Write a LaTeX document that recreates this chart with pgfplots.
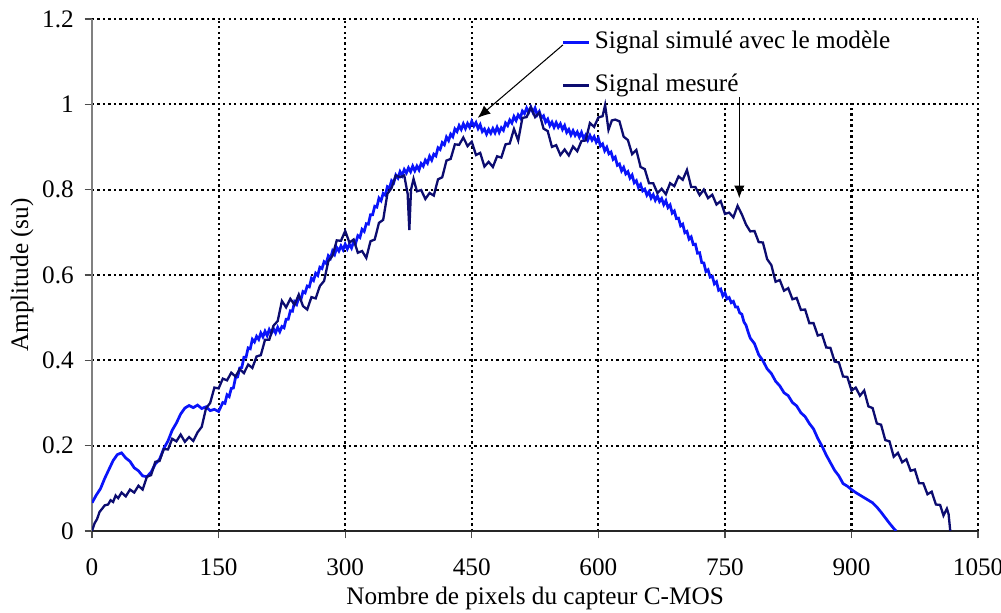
\documentclass[border=0pt]{standalone}
\usepackage{pgfplots}
\pgfplotsset{compat=1.18}
\usepackage{fontspec}
\setmainfont{Liberation Serif}
\usetikzlibrary{arrows.meta}
\definecolor{simblue}{RGB}{10,20,250}
\definecolor{mesnavy}{RGB}{12,12,112}
\begin{document}
\fontsize{12}{14.4}\selectfont
\begin{tikzpicture}
\begin{axis}[
  scale only axis, width=421.7pt, height=243.7pt,
  xmin=0, xmax=1050, ymin=0, ymax=1.2,
  xtick={0,150,300,450,600,750,900,1050},
  ytick={0,0.2,0.4,0.6,0.8,1,1.2},
  /pgf/number format/assume math mode=true,
  /pgf/number format/1000 sep={},
  yticklabel style={/pgf/number format/fixed,/pgf/number format/precision=1, xshift=-1pt},
  xticklabel style={yshift=-5.7pt},
  axis x line*=bottom, axis y line*=left,
  x axis line style={black!85, line width=0.6pt, -},
  y axis line style={black!50, line width=0.6pt, -},
  tick align=outside, major tick length=3.5pt,
  tick style={black!70, line width=0.6pt},
  grid=major,
  major grid style={black, line width=1pt, dash pattern=on 1.1pt off 1.5pt},
  xlabel={Nombre de pixels du capteur C-MOS},
  ylabel={Amplitude (su)},
  xlabel style={at={(axis description cs:0.5,-0.1445)}, anchor=base},
  ylabel style={at={(axis description cs:-0.079,0.5)}, anchor=center},
  clip mode=individual,
  legend cell align=left,
  legend style={draw=none, fill=none, at={(axis cs:556,1.183)}, anchor=north west,
    inner sep=0pt, row sep=5.4pt, nodes={inner sep=2pt, text height=8.5pt, text depth=2.6pt}},
  legend image code/.code={\draw[#1] (0cm,0cm) -- (0.44cm,0cm);},
]
\fill[white] (axis cs:540,1.006) rectangle (axis cs:1046,1.194);
\addplot[simblue, line width=1.3pt] coordinates {
(0,0.066)(5,0.084)(10,0.099)(15,0.123)(20,0.144)(25,0.165)(30,0.179)(35,0.183)(40,0.171)(45,0.163)
(50,0.148)(55,0.141)(60,0.129)(65,0.127)(70,0.138)(75,0.157)(80,0.168)(85,0.193)(90,0.211)(95,0.236)
(100,0.253)(105,0.274)(110,0.288)(115,0.294)(120,0.289)(125,0.295)(130,0.287)(135,0.291)(140,0.282)(145,0.285)
(150,0.280)
(155,0.301)(157.5,0.299)(160,0.319)(162.5,0.315)(165,0.334)(167.5,0.335)(170,0.359)(172.5,0.361)(175,0.382)(177.5,0.383)
(180,0.407)(182.5,0.407)(185,0.429)(187.5,0.427)(190,0.449)(192.5,0.443)(195,0.456)(197.5,0.449)(200,0.464)(202.5,0.455)
(205,0.468)(207.5,0.458)(210,0.472)(212.5,0.463)(215,0.474)(217.5,0.464)(220,0.477)(222.5,0.467)(225,0.479)(227.5,0.476)
(230,0.496)(232.5,0.496)(235,0.516)(237.5,0.515)(240,0.537)(242.5,0.531)(245,0.547)(247.5,0.542)(250,0.561)(252.5,0.558)
(255,0.574)(257.5,0.572)(260,0.592)(262.5,0.587)(265,0.604)(267.5,0.599)(270,0.618)(272.5,0.615)(275,0.631)(277.5,0.627)
(280,0.645)(282.5,0.639)(285,0.656)(287.5,0.648)(290,0.664)(292.5,0.656)(295,0.668)(297.5,0.659)(300,0.672)(302.5,0.661)
(305,0.672)(307.5,0.663)(310,0.678)(312.5,0.675)(315,0.692)(317.5,0.688)(320,0.707)(322.5,0.702)(325,0.720)(327.5,0.719)
(330,0.741)(332.5,0.741)(335,0.761)(337.5,0.759)(340,0.780)(342.5,0.774)(345,0.791)(347.5,0.787)(350,0.807)(352.5,0.804)
(355,0.821)(357.5,0.816)(360,0.834)(362.5,0.827)(365,0.842)(367.5,0.833)(370,0.847)(372.5,0.839)(375,0.851)(377.5,0.842)
(380,0.855)(382.5,0.844)(385,0.855)(387.5,0.846)(390,0.861)(392.5,0.855)(395,0.869)(397.5,0.862)(400,0.878)(402.5,0.869)
(405,0.883)(407.5,0.879)(410,0.898)(412.5,0.894)(415,0.910)(417.5,0.905)(420,0.923)(422.5,0.915)(425,0.930)(427.5,0.924)
(430,0.942)(432.5,0.936)(435,0.950)(437.5,0.941)(440,0.954)(442.5,0.943)(445,0.955)(447.5,0.946)(450,0.960)(452.5,0.949)
(455,0.957)(457.5,0.943)(460,0.952)(462.5,0.936)(465,0.942)(467.5,0.930)(470,0.941)(472.5,0.932)(475,0.943)(477.5,0.933)
(480,0.946)(482.5,0.934)(485,0.945)(487.5,0.939)(490,0.956)(492.5,0.950)(495,0.963)(497.5,0.956)(500,0.971)(502.5,0.962)
(505,0.975)(507.5,0.968)(510,0.984)(512.5,0.978)(515,0.991)(517.5,0.981)(520,0.993)(522.5,0.981)(525,0.991)(527.5,0.975)
(530,0.983)(532.5,0.968)(535,0.973)(537.5,0.958)(540,0.965)(542.5,0.950)(545,0.958)(547.5,0.946)(550,0.957)(552.5,0.946)
(555,0.954)(557.5,0.941)(560,0.950)(562.5,0.934)(565,0.941)(567.5,0.928)(570,0.938)(572.5,0.927)(575,0.935)(577.5,0.923)
(580,0.934)(582.5,0.920)(585,0.928)(587.5,0.916)(590,0.927)(592.5,0.916)(595,0.924)(597.5,0.911)(600,0.920)(602.5,0.902)
(605,0.907)(607.5,0.891)(610,0.899)(612.5,0.884)(615,0.888)(617.5,0.871)(620,0.876)(622.5,0.857)(625,0.860)(627.5,0.844)
(630,0.852)(632.5,0.837)(635,0.842)(637.5,0.827)(640,0.834)(642.5,0.816)(645,0.821)(647.5,0.805)(650,0.812)(652.5,0.797)
(655,0.801)(657.5,0.787)(660,0.795)(662.5,0.780)(665,0.788)(667.5,0.775)(670,0.785)(672.5,0.772)(675,0.779)(677.5,0.765)
(680,0.774)(682.5,0.758)(685,0.764)(687.5,0.745)(690,0.750)(692.5,0.732)(695,0.733)(697.5,0.715)(700,0.719)(702.5,0.699)
(705,0.702)(707.5,0.684)(710,0.689)(712.5,0.671)(715,0.672)(717.5,0.651)(720,0.652)(722.5,0.629)(725,0.628)(727.5,0.608)
(730,0.612)(732.5,0.595)(735,0.597)(737.5,0.579)(740,0.584)(742.5,0.564)(745,0.567)(747.5,0.551)(750,0.558)(752.5,0.544)
(755,0.547)(757.5,0.535)(760,0.538)(762.5,0.525)(765,0.525)(767.5,0.511)(770,0.508)(772.5,0.490)(775,0.482)(777.5,0.466)
(780,0.452)(785,0.439)(790,0.413)(795,0.399)
(800,0.380)(805,0.369)(810,0.351)(815,0.340)(820,0.324)(825,0.317)(830,0.301)(835,0.293)(840,0.277)(845,0.268)
(850,0.252)(855,0.239)(860,0.217)(865,0.199)(870,0.178)(875,0.160)(880,0.142)(885,0.129)(890,0.111)(895,0.105)
(900,0.097)(905,0.090)(910,0.084)(915,0.078)(920,0.072)(925,0.066)(930,0.056)(935,0.044)(940,0.031)(945,0.018)
(950,0.006)(953,0.0)
};
\addlegendentry{Signal simulé avec le modèle}
\addplot[mesnavy, line width=1.1pt] coordinates {
(0,0.000)(3,0.018)(6,0.028)(9,0.045)(12,0.052)(15,0.060)(19,0.062)(22,0.072)(25,0.068)(28,0.083)
(31,0.077)(35,0.090)(40,0.081)(45,0.097)(50,0.090)(55,0.106)(60,0.097)(65,0.127)(70,0.131)(75,0.162)
(80,0.164)(85,0.192)(90,0.191)(95,0.216)(100,0.210)(105,0.226)(110,0.209)(115,0.220)(120,0.211)(125,0.231)
(130,0.244)(135,0.287)(140,0.300)(145,0.336)(150,0.334)(155,0.357)(160,0.353)(165,0.371)(170,0.362)(175,0.379)
(180,0.370)(185,0.390)(190,0.382)(195,0.409)(200,0.412)(205,0.448)(210,0.448)(215,0.481)(220,0.492)(225,0.539)
(230,0.524)(235,0.544)(240,0.530)(245,0.554)(250,0.527)(255,0.519)(260,0.548)(265,0.545)(270,0.574)(275,0.586)
(280,0.632)(285,0.645)(290,0.681)(295,0.680)(300,0.703)(305,0.676)(310,0.683)(315,0.652)(320,0.656)(325,0.640)
(330,0.679)(335,0.683)(340,0.722)(345,0.729)(350,0.790)(355,0.804)(360,0.833)(365,0.829)(370,0.833)(374,0.790)
(376,0.705)(378,0.800)(381,0.825)(385,0.796)(390,0.799)(395,0.778)(400,0.792)(405,0.786)(410,0.824)(415,0.829)
(420,0.868)(425,0.872)(430,0.906)(435,0.905)(440,0.922)(445,0.902)(450,0.912)(455,0.881)(460,0.886)(465,0.854)
(470,0.865)(475,0.853)(480,0.878)(485,0.875)(490,0.906)(495,0.908)(500,0.942)(505,0.915)(510,0.968)(515,0.970)
(520,0.993)(525,0.970)(530,0.980)(535,0.943)(540,0.937)(545,0.900)(550,0.904)(555,0.881)(560,0.894)(565,0.880)
(570,0.901)(575,0.890)(580,0.914)(585,0.915)(590,0.956)(595,0.947)(600,0.969)(605,0.972)(608,0.998)(612,0.940)
(616,0.962)(620,0.964)(625,0.960)(630,0.924)(635,0.916)(640,0.883)(645,0.893)(650,0.853)(655,0.848)(660,0.815)
(665,0.815)(670,0.792)(675,0.802)(680,0.789)(685,0.815)(690,0.808)(695,0.831)(700,0.823)(705,0.846)(710,0.806)
(715,0.806)(720,0.787)(725,0.800)(730,0.780)(735,0.788)(740,0.765)(745,0.773)(750,0.743)(755,0.746)(760,0.735)
(765,0.762)(770,0.742)(775,0.718)(780,0.702)(785,0.703)(790,0.677)(795,0.676)(800,0.637)(805,0.623)(810,0.584)
(815,0.588)(820,0.563)(825,0.569)(830,0.543)(835,0.546)(840,0.518)(845,0.519)(850,0.487)(855,0.487)(860,0.458)
(865,0.461)(870,0.430)(875,0.429)(880,0.397)(885,0.395)(890,0.362)(895,0.361)(900,0.329)(905,0.336)(910,0.317)
(915,0.329)(920,0.292)(925,0.288)(930,0.252)(935,0.249)(940,0.213)(945,0.210)(950,0.174)(955,0.183)(960,0.161)
(965,0.168)(970,0.141)(975,0.144)(980,0.112)(985,0.112)(990,0.086)(995,0.092)(1000,0.062)(1005,0.061)(1009,0.036)
(1013,0.052)(1015,0.040)(1017,0.0)
};
\addlegendentry{Signal mesuré}
\draw[black, line width=0.5pt, -{Latex[length=6pt,width=5pt]}] (axis cs:558,1.139) -- (axis cs:457,0.968);
\draw[black, line width=0.5pt, -{Latex[length=6pt,width=5pt]}] (axis cs:767,1.017) -- (axis cs:767,0.780);
\end{axis}
\pgfresetboundingbox
\path[use as bounding box] ([xshift=-43.8pt,yshift=-38.6pt]current axis.south west) rectangle ([xshift=10.9pt,yshift=9.0pt]current axis.north east);
\end{tikzpicture}
\end{document}
